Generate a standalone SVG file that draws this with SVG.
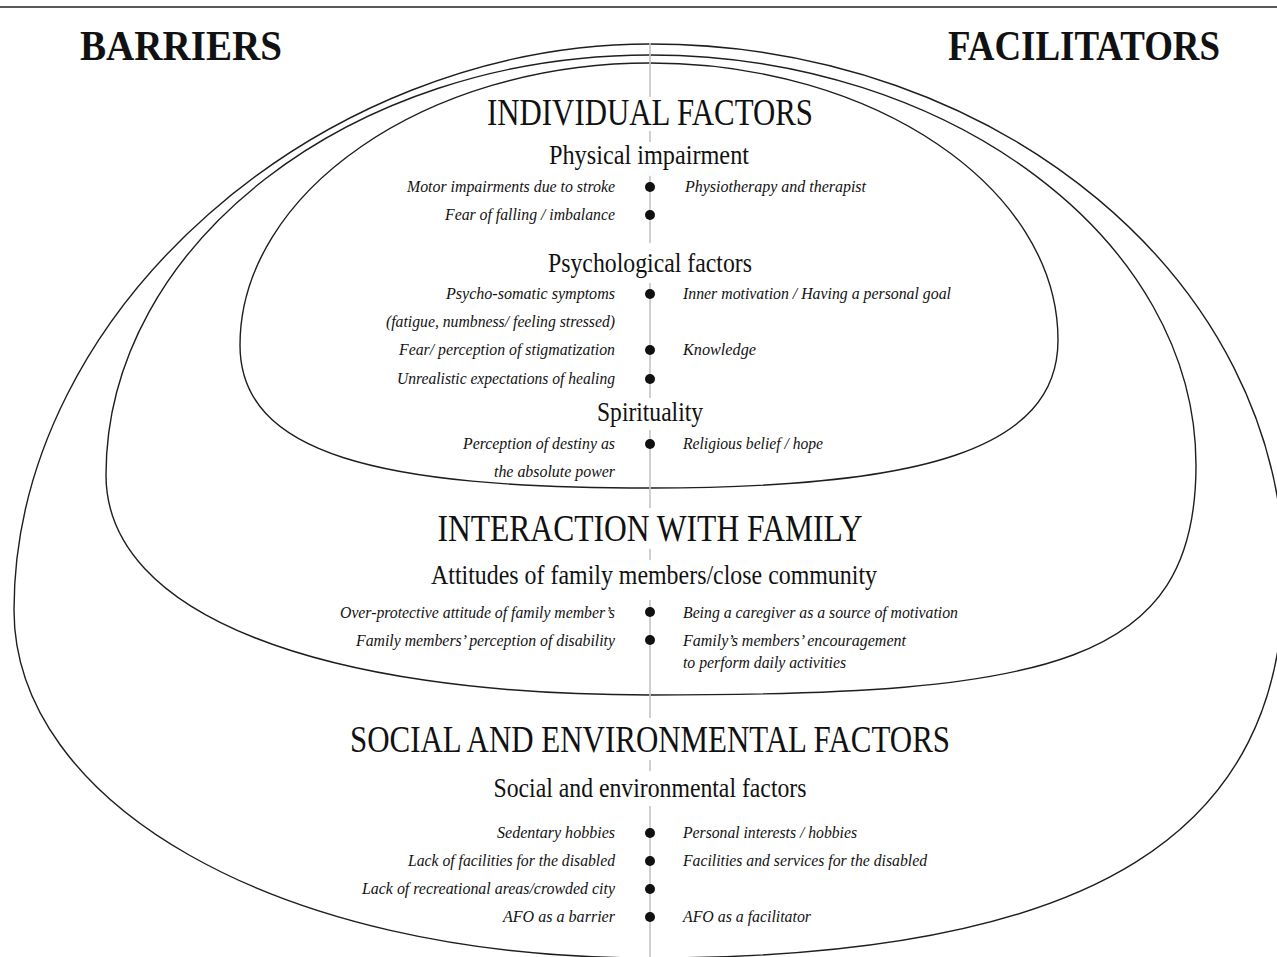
<svg xmlns="http://www.w3.org/2000/svg" width="1277" height="957" viewBox="0 0 1277 957">
<style>
.egg{fill:none;stroke:#1e1e1e;stroke-width:1.4}
.div{stroke:#c4c4c4;stroke-width:1.6}
.top{font-family:"Liberation Serif","Times New Roman",serif;font-weight:bold;font-size:42px;fill:#111}
.h1{font-family:"Liberation Serif","Times New Roman",serif;font-size:37px;fill:#111;text-anchor:middle}
.h2{font-family:"Liberation Serif","Times New Roman",serif;font-size:27px;fill:#111;text-anchor:middle}
.l{font-family:"Liberation Serif","Times New Roman",serif;font-style:italic;font-size:16px;fill:#111;text-anchor:end}
.r{font-family:"Liberation Serif","Times New Roman",serif;font-style:italic;font-size:16px;fill:#111}
.b{fill:#111}
</style>
<rect width="1277" height="957" fill="#fff"/>
<line x1="0" y1="7" x2="1277" y2="7" stroke="#222" stroke-width="1.6"/>

<g id="headers">
<text class="top" x="80" y="60" textLength="202" lengthAdjust="spacingAndGlyphs">BARRIERS</text>
<text class="top" x="948" y="60" textLength="272" lengthAdjust="spacingAndGlyphs">FACILITATORS</text>
</g>

<g id="shapes">
<path id="outer" class="egg" d="M650,44 C998,44 1284,280 1284,575 C1284,830 1100,958 650,958 C270,958 14,800 14,610 C14,310 320,44 650,44 Z"/>
<path id="middle" class="egg" d="M650,55 C950,55 1196,240 1196,465 C1196,665 1050,695 650,695 C320,695 106,615 106,475 C106,245 350,55 650,55 Z"/>
<path id="inner" class="egg" d="M650,63 C874,63 1058,188 1058,340 C1058,450 920,488 650,488 C380,488 240,455 240,345 C240,193 425,63 650,63 Z"/>
</g>

<g id="connectors">
<line class="div" x1="650" y1="43" x2="650" y2="97"/>
<line class="div" x1="650" y1="131" x2="650" y2="142"/>
<line class="div" x1="650" y1="176" x2="650" y2="243"/>
<line class="div" x1="650" y1="283" x2="650" y2="398"/>
<line class="div" x1="650" y1="430" x2="650" y2="508"/>
<line class="div" x1="650" y1="549" x2="650" y2="560"/>
<line class="div" x1="650" y1="600" x2="650" y2="718"/>
<line class="div" x1="650" y1="760" x2="650" y2="771"/>
<line class="div" x1="650" y1="806" x2="650" y2="957"/>
</g>

<g id="individual-factors">
<text class="h1" x="650" y="125" textLength="326" lengthAdjust="spacingAndGlyphs">INDIVIDUAL FACTORS</text>
<text class="h2" x="649" y="164" textLength="200" lengthAdjust="spacingAndGlyphs">Physical impairment</text>
<text class="l" x="615" y="192" textLength="208" lengthAdjust="spacingAndGlyphs">Motor impairments due to stroke</text>
<circle class="b" cx="650" cy="187" r="5"/>
<text class="r" x="685" y="192" textLength="181" lengthAdjust="spacingAndGlyphs">Physiotherapy and therapist</text>
<text class="l" x="615" y="220" textLength="170" lengthAdjust="spacingAndGlyphs">Fear of falling / imbalance</text>
<circle class="b" cx="650" cy="215" r="5"/>

<text class="h2" x="650" y="272" textLength="204" lengthAdjust="spacingAndGlyphs">Psychological factors</text>
<text class="l" x="615" y="299" textLength="169" lengthAdjust="spacingAndGlyphs">Psycho-somatic symptoms</text>
<circle class="b" cx="650" cy="294" r="5"/>
<text class="r" x="683" y="299" textLength="268" lengthAdjust="spacingAndGlyphs">Inner motivation / Having a personal goal</text>
<text class="l" x="615" y="327" textLength="229" lengthAdjust="spacingAndGlyphs">(fatigue, numbness/ feeling stressed)</text>
<text class="l" x="615" y="355" textLength="216" lengthAdjust="spacingAndGlyphs">Fear/ perception of stigmatization</text>
<circle class="b" cx="650" cy="350" r="5"/>
<text class="r" x="683" y="355" textLength="73" lengthAdjust="spacingAndGlyphs">Knowledge</text>
<text class="l" x="615" y="384" textLength="218" lengthAdjust="spacingAndGlyphs">Unrealistic expectations of healing</text>
<circle class="b" cx="650" cy="379" r="5"/>

<text class="h2" x="650" y="421" textLength="106" lengthAdjust="spacingAndGlyphs">Spirituality</text>
<text class="l" x="615" y="449" textLength="152" lengthAdjust="spacingAndGlyphs">Perception of destiny as</text>
<circle class="b" cx="650" cy="444" r="5"/>
<text class="r" x="683" y="449" textLength="140" lengthAdjust="spacingAndGlyphs">Religious belief / hope</text>
<text class="l" x="615" y="477" textLength="121" lengthAdjust="spacingAndGlyphs">the absolute power</text>
</g>

<g id="interaction-with-family">
<text class="h1" x="650" y="541" textLength="425" lengthAdjust="spacingAndGlyphs">INTERACTION WITH FAMILY</text>
<text class="h2" x="654" y="584" textLength="446" lengthAdjust="spacingAndGlyphs">Attitudes of family members/close community</text>
<text class="l" x="615" y="618" textLength="275" lengthAdjust="spacingAndGlyphs">Over-protective attitude of family member’s</text>
<circle class="b" cx="650" cy="612" r="5"/>
<text class="r" x="683" y="618" textLength="275" lengthAdjust="spacingAndGlyphs">Being a caregiver as a source of motivation</text>
<text class="l" x="615" y="646" textLength="259" lengthAdjust="spacingAndGlyphs">Family members’ perception of disability</text>
<circle class="b" cx="650" cy="640" r="5"/>
<text class="r" x="683" y="646" textLength="223" lengthAdjust="spacingAndGlyphs">Family’s members’ encouragement</text>
<text class="r" x="683" y="668" textLength="163" lengthAdjust="spacingAndGlyphs">to perform daily activities</text>
</g>

<g id="social-environmental-factors">
<text class="h1" x="650" y="752" textLength="600" lengthAdjust="spacingAndGlyphs">SOCIAL AND ENVIRONMENTAL FACTORS</text>
<text class="h2" x="650" y="797" textLength="313" lengthAdjust="spacingAndGlyphs">Social and environmental factors</text>
<text class="l" x="615" y="838" textLength="118" lengthAdjust="spacingAndGlyphs">Sedentary hobbies</text>
<circle class="b" cx="650" cy="833" r="5"/>
<text class="r" x="683" y="838" textLength="174" lengthAdjust="spacingAndGlyphs">Personal interests / hobbies</text>
<text class="l" x="615" y="866" textLength="207" lengthAdjust="spacingAndGlyphs">Lack of facilities for the disabled</text>
<circle class="b" cx="650" cy="861" r="5"/>
<text class="r" x="683" y="866" textLength="244" lengthAdjust="spacingAndGlyphs">Facilities and services for the disabled</text>
<text class="l" x="615" y="894" textLength="253" lengthAdjust="spacingAndGlyphs">Lack of recreational areas/crowded city</text>
<circle class="b" cx="650" cy="889" r="5"/>
<text class="l" x="615" y="922" textLength="112" lengthAdjust="spacingAndGlyphs">AFO as a barrier</text>
<circle class="b" cx="650" cy="917" r="5"/>
<text class="r" x="683" y="922" textLength="128" lengthAdjust="spacingAndGlyphs">AFO as a facilitator</text>
</g>
</svg>
